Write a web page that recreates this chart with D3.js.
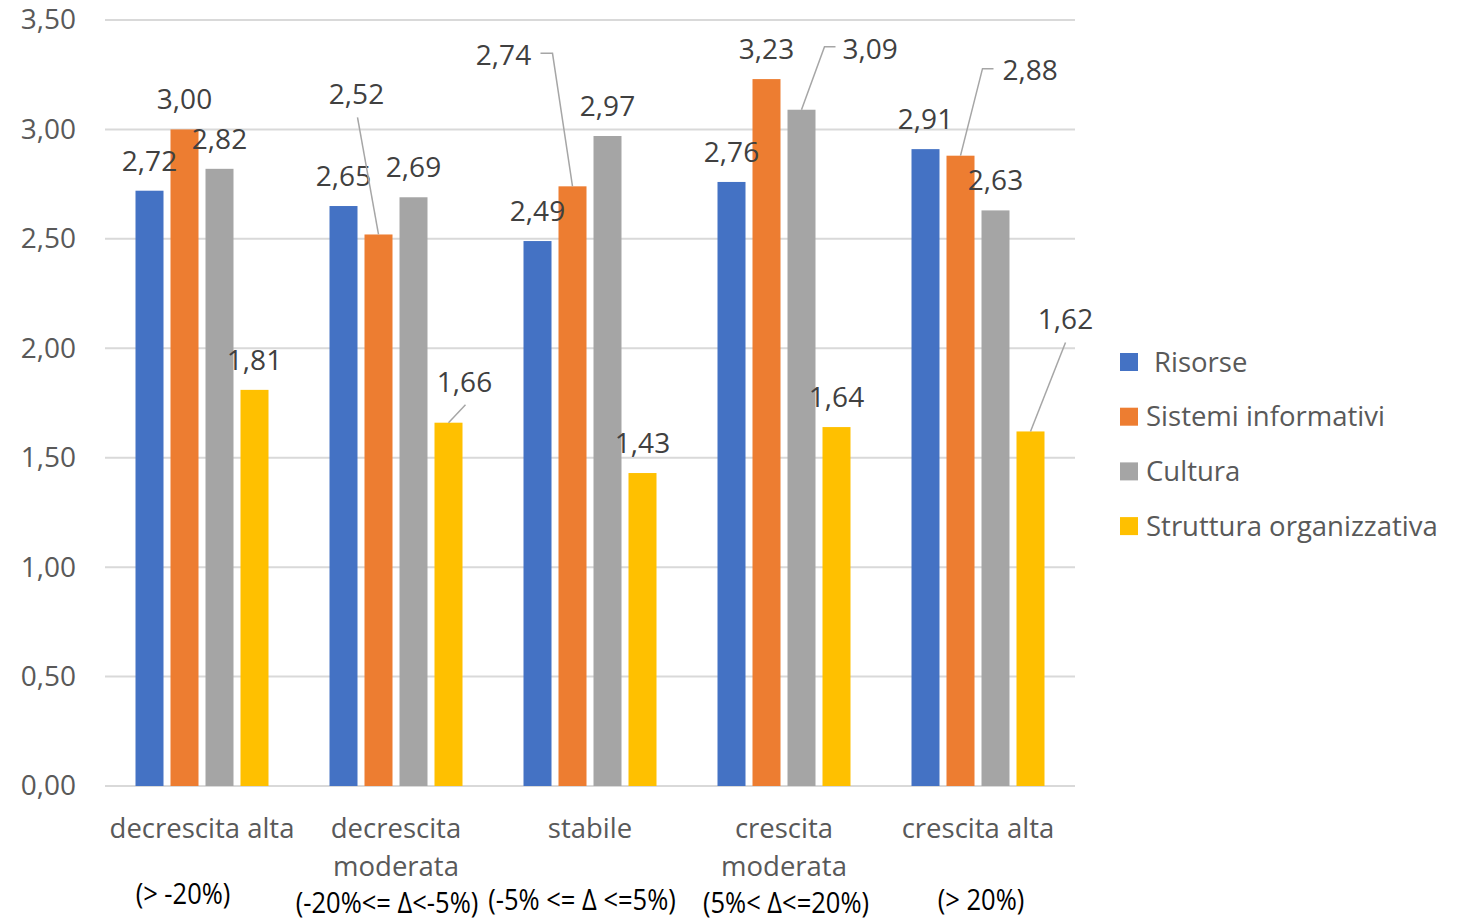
<!DOCTYPE html>
<html>
<head>
<meta charset="utf-8">
<script src="https://cdn.jsdelivr.net/npm/d3@7"></script>
<style>
  html, body { margin: 0; padding: 0; background: #fff; }
  svg { display: block; font-family: "Open Sans", "Segoe UI", sans-serif; }
</style>
</head>
<body>
<svg id="chart" width="1466" height="921"></svg>
<script>
// Categories (first lines of the axis labels) and the range notes below them
const categories = ["decrescita alta", "decrescita moderata", "stabile", "crescita moderata", "crescita alta"];
const categoryLines = [["decrescita alta"], ["decrescita", "moderata"], ["stabile"], ["crescita", "moderata"], ["crescita alta"]];
const rangeNotes = ["(> -20%)", "(-20%<= Δ<-5%)", "(-5% <= Δ <=5%)", "(5%< Δ<=20%)", "(> 20%)"];

const seriesNames = ["Risorse", "Sistemi informativi", "Cultura", "Struttura organizzativa"];
const risorse = [2.72, 2.65, 2.49, 2.76, 2.91];
const sistemiInformativi = [3.00, 2.52, 2.74, 3.23, 2.88];
const cultura = [2.82, 2.69, 2.97, 3.09, 2.63];
const strutturaOrganizzativa = [1.81, 1.66, 1.43, 1.64, 1.62];

const yTicks = [0, 0.5, 1, 1.5, 2, 2.5, 3, 3.5];

const seriesValues = [risorse, sistemiInformativi, cultura, strutturaOrganizzativa];
const colors = ["#4472c4", "#ed7d31", "#a5a5a5", "#ffc000"];

const fmt = v => d3.format(".2f")(v).replace(".", ",");

const svg = d3.select("#chart");
const plot = { left: 105, right: 1075, top: 20, bottom: 786 };

const x0 = d3.scaleBand().domain(categories).range([plot.left, plot.right]).paddingInner(0).paddingOuter(0);
const x1 = d3.scaleBand().domain(seriesNames).range([30.5, x0.bandwidth() - 30.5]).paddingInner(0.2).paddingOuter(0);
const y = d3.scaleLinear().domain([0, 3.5]).range([plot.bottom, plot.top]);

// Gridlines
svg.append("g")
  .selectAll("line")
  .data(yTicks)
  .join("line")
  .attr("x1", plot.left).attr("x2", plot.right)
  .attr("y1", d => y(d)).attr("y2", d => y(d))
  .attr("stroke", "#d9d9d9").attr("stroke-width", 2);

// Y axis labels
const yAxis = d3.axisLeft(y).tickValues(yTicks).tickFormat(fmt).tickSize(0).tickPadding(0);
const yg = svg.append("g").attr("transform", `translate(76,0)`).call(yAxis);
yg.select(".domain").remove();
yg.selectAll("text")
  .attr("font-size", 28).attr("fill", "#595959")
  .attr("font-family", "'Open Sans', sans-serif");

// Bars
const rows = [];
categories.forEach((c, ci) => seriesNames.forEach((s, si) => rows.push({ c, ci, s, si, v: seriesValues[si][ci] })));

svg.append("g")
  .selectAll("rect")
  .data(rows)
  .join("rect")
  .attr("x", d => x0(d.c) + x1(d.s))
  .attr("y", d => y(d.v))
  .attr("width", x1.bandwidth())
  .attr("height", d => y(0) - y(d.v))
  .attr("fill", d => colors[d.si]);

// Data labels; a few are moved away from the bars with leader lines
// offsets relative to the top-centre of the bar: label centre (lx, ly), leader path points
const leaders = {
  "1-1": { lx: -22, ly: -140, anchor: "middle", path: [[0, 0], [-21, -117]] },
  "1-3": { lx: 16, ly: -40, anchor: "middle", path: [[0, 0], [17, -18]] },
  "4-3": { lx: 35, ly: -112, anchor: "middle", path: [[0, 0], [35, -89]] },
  "2-1": { lx: -69, ly: -131, anchor: "middle", path: [[0, 0], [-20, -133], [-32, -133]] },
  "3-2": { lx: 41, ly: -61, anchor: "start", path: [[0, 0], [23, -63], [34, -63]] },
  "4-1": { lx: 42, ly: -85, anchor: "start", path: [[0, 0], [22, -87], [33, -87]] }
};

const labels = svg.append("g");
rows.forEach(d => {
  const bx = x0(d.c) + x1(d.s) + x1.bandwidth() / 2;
  const by = y(d.v);
  const L = leaders[d.ci + "-" + d.si];
  if (L) {
    labels.append("path")
      .attr("d", d3.line()(L.path.map(p => [bx + p[0], by + p[1]])))
      .attr("fill", "none").attr("stroke", "#a6a6a6").attr("stroke-width", 1.5);
    labels.append("text")
      .attr("x", bx + L.lx).attr("y", by + L.ly)
      .attr("text-anchor", L.anchor).attr("dy", "0.35em")
      .attr("font-size", 28).attr("fill", "#404040")
      .text(fmt(d.v));
  } else {
    labels.append("text")
      .attr("x", bx).attr("y", by - 30)
      .attr("text-anchor", "middle").attr("dy", "0.35em")
      .attr("font-size", 28).attr("fill", "#404040")
      .text(fmt(d.v));
  }
});

// Category labels
const noteShift = [0, 9, 6, 9, 6];
const noteDx = [-19, -9, -8, 2, 3];
const cat = svg.append("g");
categories.forEach((c, ci) => {
  const cx = x0(c) + x0.bandwidth() / 2;
  categoryLines[ci].forEach((line, li) => {
    cat.append("text")
      .attr("x", cx).attr("y", 828 + li * 38).attr("dy", "0.35em")
      .attr("text-anchor", "middle").attr("font-size", 27.5).attr("fill", "#595959")
      .text(line);
  });
  const nx = cx + noteDx[ci], ny = 894 + noteShift[ci];
  cat.append("text")
    .attr("transform", `translate(${nx},${ny}) scale(0.88,1)`)
    .attr("dy", "0.35em")
    .attr("text-anchor", "middle").attr("font-size", 29).attr("fill", "#000")
    .text(rangeNotes[ci]);
});

// Legend
const legend = svg.append("g").attr("transform", "translate(1120,362)");
seriesNames.forEach((s, i) => {
  const g = legend.append("g").attr("transform", `translate(0,${i * 54.7})`);
  g.append("rect").attr("x", 0).attr("y", -9).attr("width", 18).attr("height", 18).attr("fill", colors[i]);
  g.append("text").attr("x", i === 0 ? 34 : 26).attr("y", 0).attr("dy", "0.35em")
    .attr("font-size", 27.5).attr("fill", "#595959").text(s);
});
</script>
</body>
</html>
